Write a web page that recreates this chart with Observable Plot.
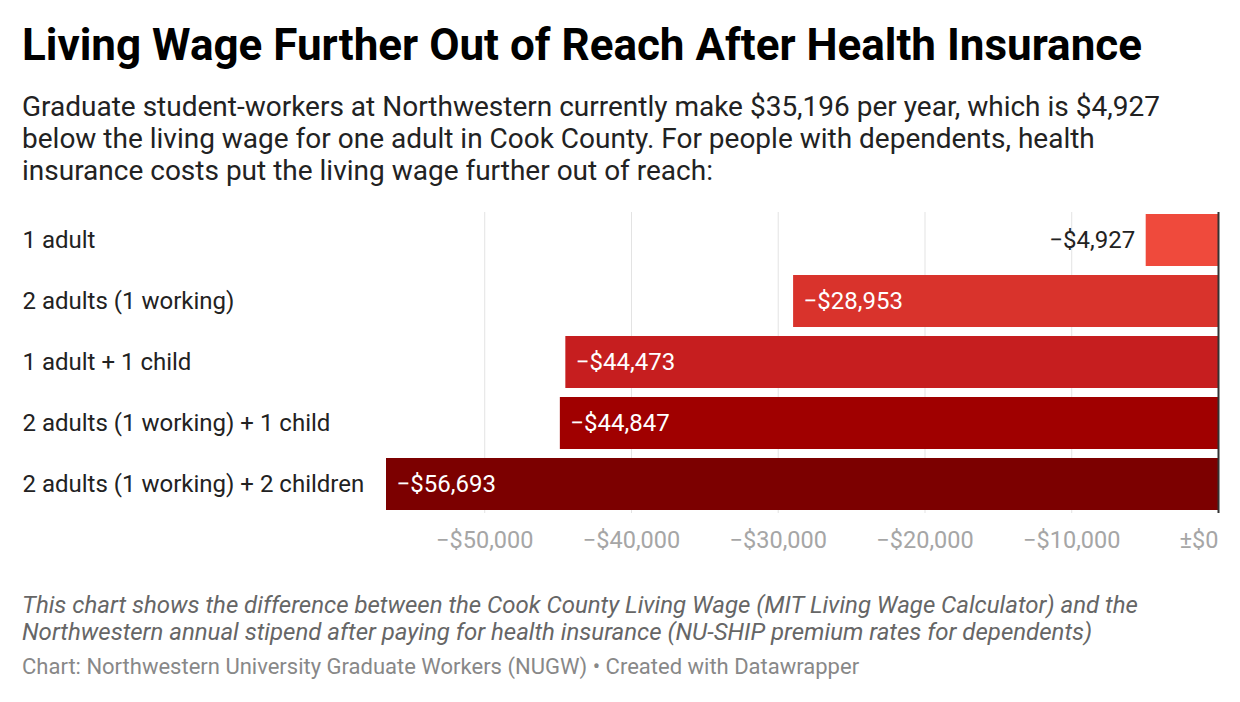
<!DOCTYPE html>
<html>
<head>
<meta charset="utf-8">
<script src="https://cdn.jsdelivr.net/npm/d3@7"></script>
<script src="https://cdn.jsdelivr.net/npm/@observablehq/plot@0.6"></script>
<style>
  html, body { margin:0; padding:0; background:#fff; }
  body { width:1240px; height:702px; position:relative; overflow:hidden; font-family: Roboto, "Noto Sans", sans-serif; }
  .abs { position:absolute; left:22px; white-space:nowrap; }
  #title { top:19px; font-size:44px; line-height:52px; font-weight:700; color:#000; }
  #subtitle { top:91px; font-size:28px; line-height:32px; color:#222; }
  #chart { position:absolute; left:0; top:204px; }
  #caption { top:592px; font-size:24px; line-height:27px; font-style:italic; color:#666; }
  #source { top:654px; font-size:22px; line-height:26px; color:#888; }
</style>
</head>
<body>
<div id="title" class="abs">Living Wage Further Out of Reach After Health Insurance</div>
<div id="subtitle" class="abs">Graduate student-workers at Northwestern currently make $35,196 per year, which is $4,927<br>below the living wage for one adult in Cook County. For people with dependents, health<br>insurance costs put the living wage further out of reach:</div>
<div id="chart"></div>
<div id="caption" class="abs">This chart shows the difference between the Cook County Living Wage (MIT Living Wage Calculator) and the<br>Northwestern annual stipend after paying for health insurance (NU-SHIP premium rates for dependents)</div>
<div id="source" class="abs">Chart: Northwestern University Graduate Workers (NUGW) • Created with Datawrapper</div>
<script>
const categories = [
  "1 adult",
  "2 adults (1 working)",
  "1 adult + 1 child",
  "2 adults (1 working) + 1 child",
  "2 adults (1 working) + 2 children"
];
const values = [-4927, -28953, -44473, -44847, -56693];
const valueLabels = ["−$4,927", "−$28,953", "−$44,473", "−$44,847", "−$56,693"];
const barColors = ["#ef4a3c", "#d9332c", "#c61e1f", "#a00000", "#7c0000"];
const xTicks = [-50000, -40000, -30000, -20000, -10000];
const xTickLabels = ["−$50,000", "−$40,000", "−$30,000", "−$20,000", "−$10,000"];
const zeroLabel = "±$0";

const data = categories.map((c, i) => ({cat: c, value: values[i], label: valueLabels[i], color: barColors[i]}));
const fmt = new Map(xTicks.map((t, i) => [t, xTickLabels[i]]));

const chart = Plot.plot({
  width: 1240,
  height: 360,
  marginTop: 8,
  marginBottom: 51,
  marginLeft: 386,
  marginRight: 22,
  style: {fontFamily: "Roboto, sans-serif", background: "transparent"},
  x: {domain: [d3.min(values), 0], axis: null},
  y: {domain: categories, paddingInner: 0.145, paddingOuter: 0, axis: null},
  color: {type: "identity"},
  marks: [
    Plot.gridX(xTicks, {stroke: "#e3e3e3", strokeOpacity: 1, strokeWidth: 1}),
    Plot.barX(data, {x: "value", y: "cat", fill: "color"}),
    Plot.ruleX([0], {stroke: "#333", strokeWidth: 2}),
    Plot.axisX(xTicks, {tickSize: 0, tickPadding: 18, fontSize: 23.5, color: "#a6a6a6", tickFormat: d => fmt.get(d), label: null}),
    Plot.axisX([0], {tickSize: 0, tickPadding: 18, fontSize: 23.5, color: "#a6a6a6", textAnchor: "end", tickFormat: () => zeroLabel, label: null}),
    Plot.text(data, {y: "cat", text: "cat", frameAnchor: "left", dx: -364, textAnchor: "start", fontSize: 24, fill: "#222"}),
    Plot.text(data.filter(d => d.value > -10000), {x: "value", y: "cat", text: "label", textAnchor: "end", dx: -11, fontSize: 24, fill: "#222"}),
    Plot.text(data.filter(d => d.value <= -10000), {x: "value", y: "cat", text: "label", textAnchor: "start", dx: 10, fontSize: 24, fill: "#fff"})
  ]
});
document.getElementById("chart").appendChild(chart);
</script>
</body>
</html>
